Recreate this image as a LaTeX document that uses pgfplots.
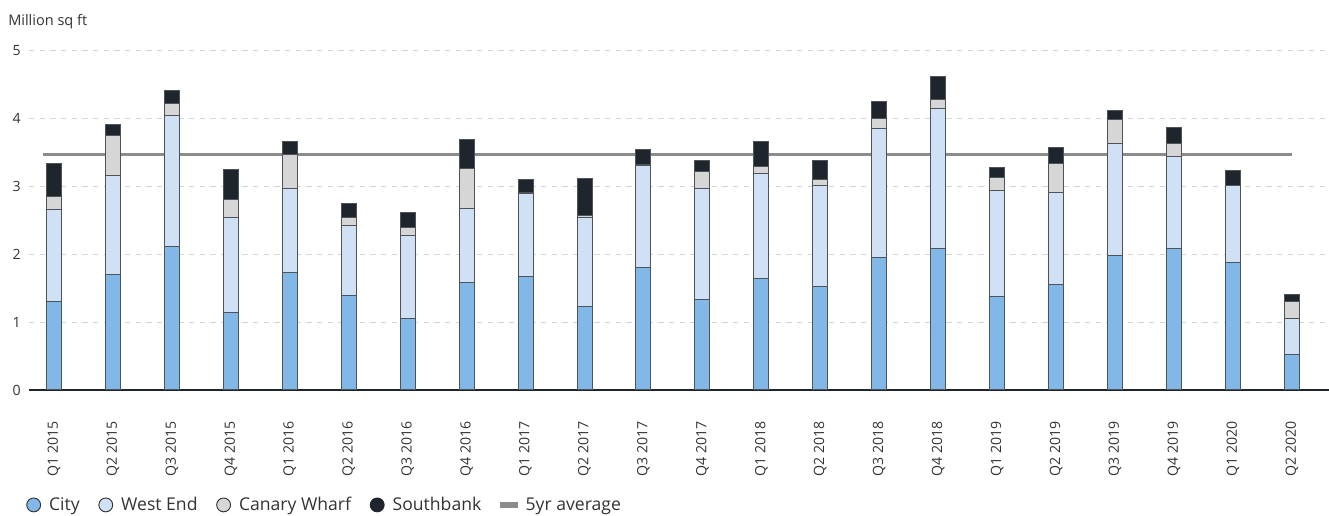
\documentclass[border=0pt]{standalone}
\usepackage{pgfplots}
\pgfplotsset{compat=1.18}
\usepackage{pgfplotstable}
\usepackage{fontspec}
\setmainfont{Open Sans}

\definecolor{cityc}{HTML}{82B8E8}
\definecolor{westc}{HTML}{D0E1F5}
\definecolor{canc}{HTML}{D6D6D6}
\definecolor{southc}{HTML}{1E252D}
\definecolor{avgc}{HTML}{8C8C8C}
\definecolor{txtc}{HTML}{333333}
\definecolor{gridc}{HTML}{D4D4D4}
\definecolor{edgec}{HTML}{4E5358}

% Take-up by submarket, million sq ft (segment values per quarter)
\pgfplotstableread{
x city west canary south
0  1.30 1.36 0.20 0.48
1  1.71 1.46 0.59 0.16
2  2.12 1.93 0.17 0.19
3  1.15 1.40 0.26 0.44
4  1.74 1.23 0.50 0.19
5  1.40 1.03 0.11 0.21
6  1.05 1.23 0.12 0.22
7  1.58 1.09 0.59 0.43
8  1.67 1.23 0.02 0.18
9  1.23 1.32 0.02 0.55
10 1.80 1.51 0.02 0.22
11 1.34 1.63 0.25 0.17
12 1.64 1.55 0.10 0.37
13 1.53 1.49 0.08 0.29
14 1.96 1.90 0.14 0.25
15 2.09 2.06 0.14 0.34
16 1.38 1.56 0.19 0.15
17 1.55 1.37 0.42 0.24
18 1.99 1.65 0.35 0.13
19 2.09 1.36 0.18 0.24
20 1.88 1.13 0.01 0.22
21 0.52 0.54 0.25 0.10
}\takeup

\begin{document}
\begin{tikzpicture}[every node/.style={text=txtc}]
\begin{axis}[
  at={(21.75pt,94.5pt)}, anchor=south west,
  scale only axis, width=975pt, height=254.25pt,
  xmin=-0.424, xmax=21.63, ymin=0, ymax=5,
  enlargelimits=false,
  ybar stacked, bar width=11.25pt,
  axis x line*=bottom, axis y line*=left,
  x axis line style={draw=southc, line width=1.6pt},
  y axis line style={draw=none},
  major tick length=0pt,
  xtick={0,...,21},
  xticklabels={Q1 2015,Q2 2015,Q3 2015,Q4 2015,Q1 2016,Q2 2016,Q3 2016,Q4 2016,Q1 2017,Q2 2017,Q3 2017,Q4 2017,Q1 2018,Q2 2018,Q3 2018,Q4 2018,Q1 2019,Q2 2019,Q3 2019,Q4 2019,Q1 2020,Q2 2020},
  xticklabel style={rotate=90, anchor=east, inner sep=0pt, font=\fontsize{10.6}{12}\selectfont},
  xticklabel shift=23pt,
  ytick={0,1,2,3,4,5},
  yticklabel style={anchor=east, inner sep=0pt, font=\fontsize{10.6}{12}\selectfont},
  yticklabel shift=6pt,
  /pgf/number format/assume math mode=true,
  ymajorgrids,
  major grid style={draw=gridc, line width=0.75pt, dash pattern=on 4pt off 4pt},
  clip=false,
  legend columns=5,
  legend style={at={(-0.0023,-0.339)}, anchor=west, draw=none, fill=none,
    inner sep=0pt, font=\fontsize{13.2}{15}\selectfont,
    cells={anchor=west},
    nodes={inner sep=0pt},
    /tikz/every odd column/.append style={column sep=6pt},
    /tikz/every even column/.append style={column sep=14pt}},
]
\addplot+[fill=cityc, draw=edgec, line width=0.75pt,
  legend image code/.code={\draw[fill=cityc, draw=txtc, line width=0.7pt] (5.25pt,0pt) circle (5.2pt);}]
  table[x=x, y=city] {\takeup};
\addlegendentry{City}
\addplot+[fill=westc, draw=edgec, line width=0.75pt,
  legend image code/.code={\draw[fill=westc, draw=txtc, line width=0.7pt] (5.25pt,0pt) circle (5.2pt);}]
  table[x=x, y=west] {\takeup};
\addlegendentry{West End}
\addplot+[fill=canc, draw=edgec, line width=0.75pt,
  legend image code/.code={\draw[fill=canc, draw=txtc, line width=0.7pt] (5.25pt,0pt) circle (5.2pt);}]
  table[x=x, y=canary] {\takeup};
\addlegendentry{Canary Wharf}
\addplot+[fill=southc, draw=edgec, line width=0.75pt,
  legend image code/.code={\draw[fill=southc, draw=southc, line width=0.7pt] (5.25pt,0pt) circle (5.2pt);}]
  table[x=x, y=south] {\takeup};
\addlegendentry{Southbank}
% five-year average take-up
\addplot[sharp plot, stack plots=false, draw=avgc, line width=2pt, mark=none,
  legend image code/.code={\fill[avgc] (0pt,-1.1pt) rectangle (11.25pt,1.1pt);}]
  coordinates {(-0.19,3.47) (21,3.47)};
\addlegendentry{5yr average}
\end{axis}
\node[anchor=base west, inner sep=0pt, font=\fontsize{10.9}{12}\selectfont] at (6pt,368pt) {Million sq ft};
\pgfresetboundingbox
\path (0pt,0pt) rectangle (996.75pt,387pt);
\end{tikzpicture}
\end{document}
